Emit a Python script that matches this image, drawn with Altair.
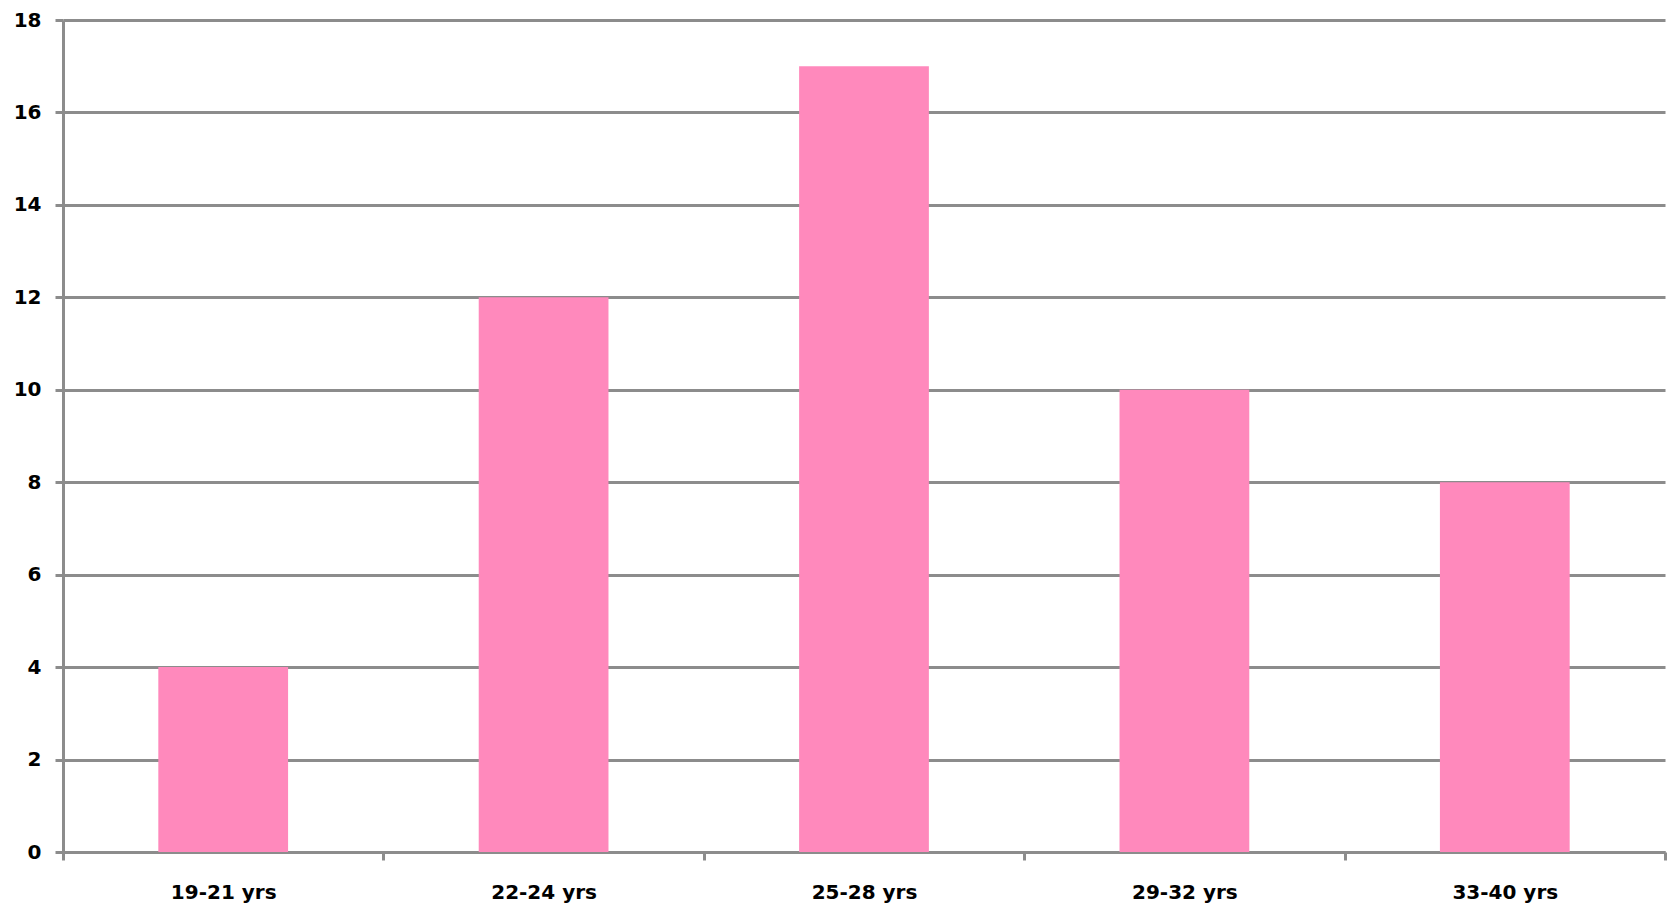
import altair as alt
import pandas as pd

categories = ["19-21 yrs", "22-24 yrs", "25-28 yrs", "29-32 yrs", "33-40 yrs"]
counts = [4, 12, 17, 10, 8]
y_ticks = [0, 2, 4, 6, 8, 10, 12, 14, 16, 18]

df = pd.DataFrame({"cat": categories, "count": counts})

FONT = "DejaVu Sans"
GRID = "#8c8c8c"

chart = alt.Chart(df).mark_bar(color="#FF89BC", width={"band": 0.405}).encode(
    x=alt.X("cat:N", sort=categories, title=None,
            scale=alt.Scale(paddingInner=0, paddingOuter=0),
            axis=alt.Axis(labelAngle=0, tickBand="extent", grid=False,
                          domainColor=GRID, domainWidth=3,
                          tickColor=GRID, tickWidth=3, tickSize=8,
                          labelFont=FONT, labelFontSize=20, labelFontWeight="bold",
                          labelColor="black", labelPadding=22)),
    y=alt.Y("count:Q", title=None,
            scale=alt.Scale(domain=[0, 18], nice=False),
            axis=alt.Axis(values=y_ticks, grid=True, gridColor=GRID, gridWidth=3,
                          domainColor=GRID, domainWidth=3,
                          tickColor=GRID, tickWidth=3, tickSize=8,
                          labelFont=FONT, labelFontSize=20, labelFontWeight="bold",
                          labelColor="black", labelPadding=14)),
).properties(
    width=1602, height=832,
    autosize="none",
    padding={"left": 63, "top": 20, "right": 4, "bottom": 55},
).configure_view(stroke=None)

chart.save("out.html", embed_options={"renderer": "svg", "actions": False})
